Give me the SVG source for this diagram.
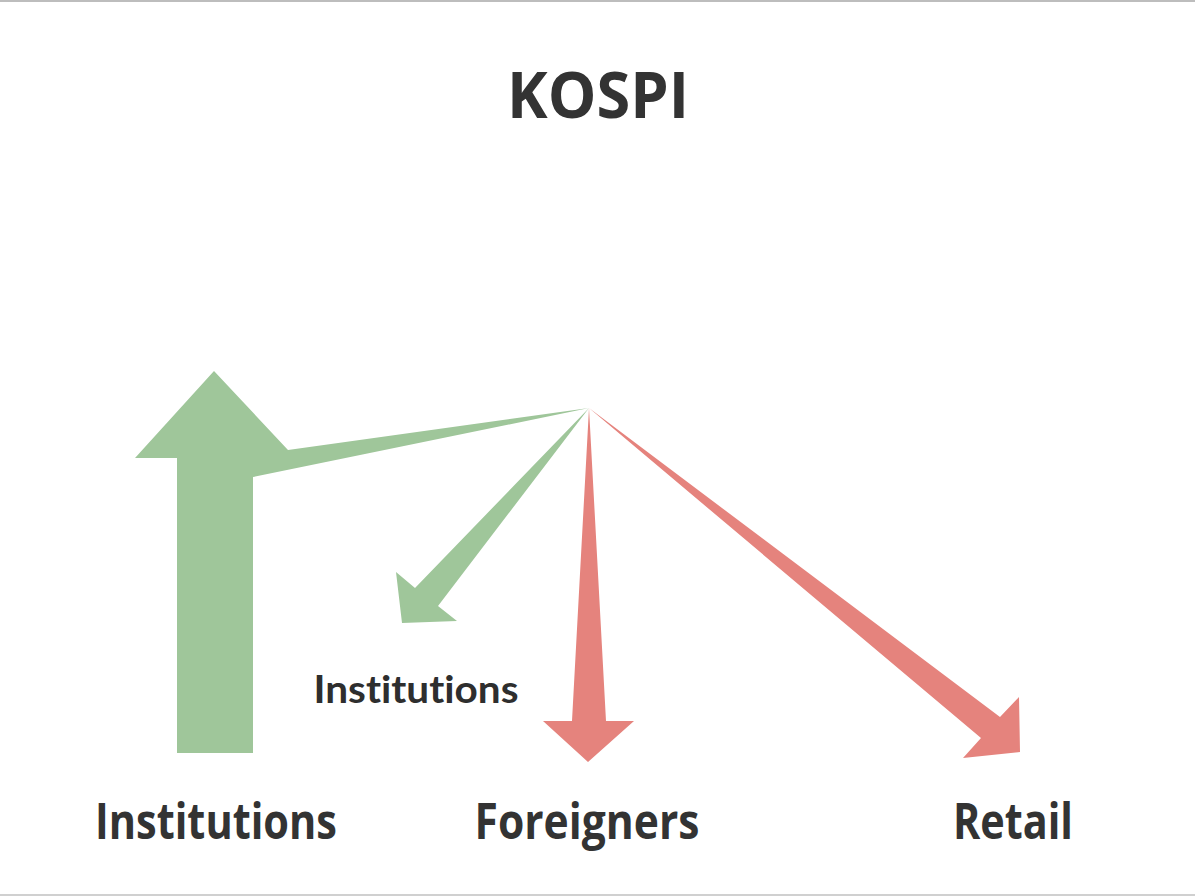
<svg xmlns="http://www.w3.org/2000/svg" width="1195" height="896" viewBox="0 0 1195 896">
<style>
.g{fill:#9fc69a}
.r{fill:#e5837d}
.t{font-family:"Open Sans","Liberation Sans",sans-serif;fill:#333333;font-weight:700}
.h{font-family:"Open Sans","Liberation Sans",sans-serif;fill:#333333;font-weight:700}
.m{font-family:Lato,"Open Sans",sans-serif;fill:#2e2e2e;font-weight:700;font-variant-ligatures:none}
</style>
<rect width="1195" height="896" fill="#ffffff"/>
<rect x="0" y="0" width="1195" height="2" fill="#bdbdbd"/>
<rect x="0" y="894" width="1195" height="2" fill="#d0d0d0"/>
<g id="title"><text class="h" x="598" y="118" font-size="65" text-anchor="middle" textLength="182" lengthAdjust="spacingAndGlyphs">KOSPI</text></g>
<g id="connectors">
<polygon id="inst-up" class="g" points="177,753 177,458 135,458 214,371 288,450 589,408 253,477 253,753"/>
<polygon id="inst-diag" class="g" points="589,408 438,606 457,621 402,623 396,572 415,588"/>
<polygon id="foreign-down" class="r" points="589,408 606,721 634,721 588,762 543,721 572,721"/>
<polygon id="retail-diag" class="r" points="589,408 1000,717 1019,697 1020,752 963,758 981,738"/>
</g>
<g id="label-institutions-mid"><text class="m" x="416" y="703" font-size="38" text-anchor="middle" textLength="205" lengthAdjust="spacingAndGlyphs">Institutions</text></g>
<g id="node-institutions"><text class="t" x="216" y="839" font-size="50" text-anchor="middle" textLength="242" lengthAdjust="spacingAndGlyphs">Institutions</text></g>
<g id="node-foreigners"><text class="t" x="587" y="839" font-size="50" text-anchor="middle" textLength="225" lengthAdjust="spacingAndGlyphs">Foreigners</text></g>
<g id="node-retail"><text class="t" x="1013" y="839" font-size="50" text-anchor="middle" textLength="120" lengthAdjust="spacingAndGlyphs">Retail</text></g>
</svg>
